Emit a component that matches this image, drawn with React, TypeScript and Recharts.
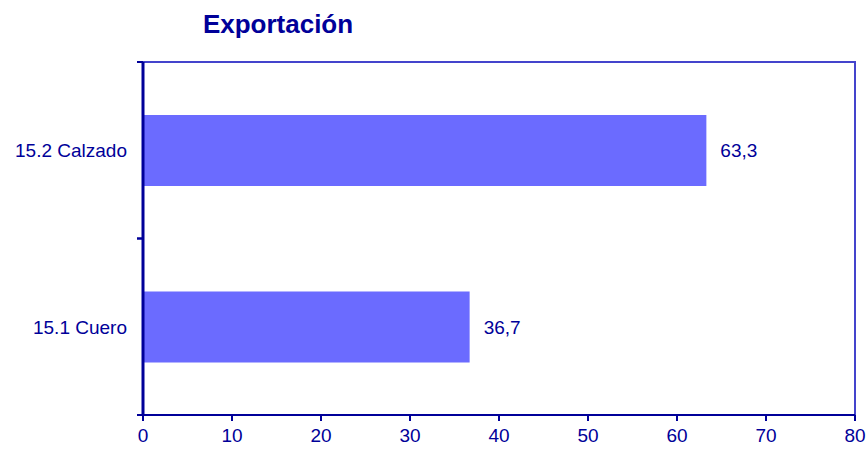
import React from 'react'
import { BarChart, Bar, XAxis, YAxis, LabelList, ReferenceArea } from 'recharts'

const categories = ['15.2 Calzado', '15.1 Cuero']
const shares = [63.3, 36.7]
const xTicks = [0, 10, 20, 30, 40, 50, 60, 70, 80]

const data = categories.map((name, i) => ({ name, value: shares[i] }))

const ink = '#000099'
const font = '"Liberation Sans", Arial, sans-serif'

const formatValue = (v: number) => v.toFixed(1).replace('.', ',')

function CategoryTick(props: any) {
  const { x, y, payload } = props
  const half = payload?.offset ?? 0
  const axisX = x + 16
  return (
    <g>
      <line x1={axisX - 6} x2={axisX} y1={y - half} y2={y - half} stroke={ink} strokeWidth={2} />
      <line x1={axisX - 6} x2={axisX} y1={y + half} y2={y + half} stroke={ink} strokeWidth={2} />
      <text x={x} y={y} dy={7} textAnchor="end" fill={ink} fontSize={19} fontFamily={font}>
        {payload.value}
      </text>
    </g>
  )
}

export default function App() {
  return (
    <div style={{ position: 'fixed', left: 0, top: 0, width: 868, height: 449, background: '#fff' }}>
      <div
        style={{
          position: 'absolute',
          left: 0,
          top: 9,
          width: 556,
          textAlign: 'center',
          fontFamily: font,
          fontWeight: 'bold',
          fontSize: 26,
          color: ink,
        }}
      >
        Exportación
      </div>
      <BarChart
        width={868}
        height={449}
        data={data}
        layout="vertical"
        barCategoryGap="30%"
        margin={{ top: 62, right: 13, bottom: 0, left: 0 }}
      >
        <ReferenceArea
          x1={0}
          x2={80}
          fill="none"
          stroke="#4444cc"
          strokeWidth={2}
          ifOverflow="visible"
        />
        <XAxis
          type="number"
          domain={[0, 80]}
          ticks={xTicks}
          interval={0}
          height={34}
          stroke={ink}
          axisLine={{ stroke: ink, strokeWidth: 2 }}
          tickLine={{ stroke: ink, strokeWidth: 2 }}
          tickSize={6}
          tickMargin={8}
          tick={{ fill: ink, fontSize: 19, fontFamily: font }}
        />
        <YAxis
          type="category"
          dataKey="name"
          width={143}
          axisLine={{ stroke: ink, strokeWidth: 3 }}
          tickLine={false}
          tickSize={6}
          tickMargin={10}
          tick={<CategoryTick />}
        />
        <Bar dataKey="value" fill="#6b6bff" isAnimationActive={false}>
          <LabelList
            dataKey="value"
            position="right"
            offset={14}
            formatter={(v: any) => formatValue(Number(v))}
            style={{ fill: ink, fontSize: 19, fontFamily: font }}
          />
        </Bar>
      </BarChart>
    </div>
  )
}
